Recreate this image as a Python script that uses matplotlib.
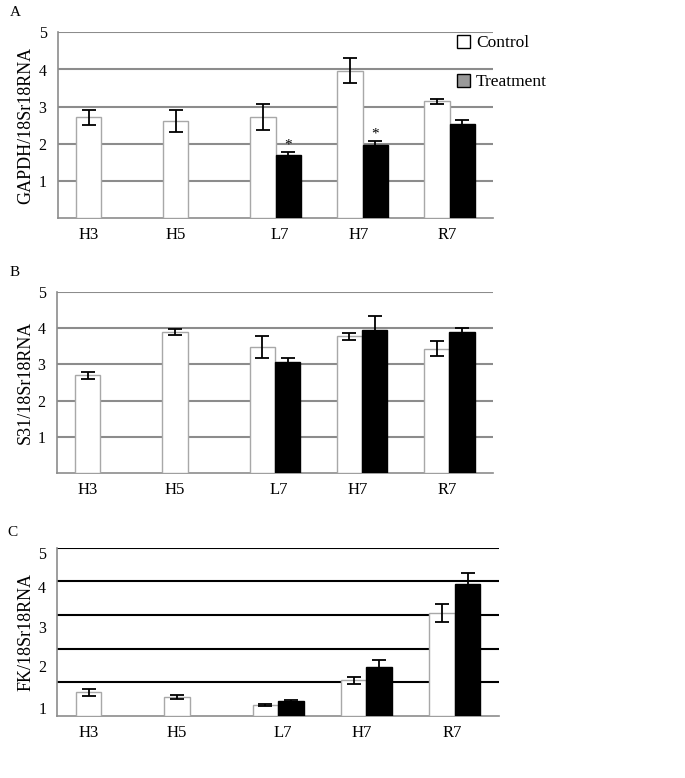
import numpy as np
import matplotlib
matplotlib.use("Agg")
import matplotlib.pyplot as plt
from matplotlib.patches import Patch

plt.rcParams['font.family'] = ['Liberation Serif', 'DejaVu Serif']

# Dati
categories = ["H3", "H5", "L7", "H7", "R7"]
xtick_pos = [-0.145, 0.855, 2.05, 2.95, 3.97]

gapdh_ctrl = [2.72, 2.61, 2.72, 3.97, 3.15]
gapdh_ctrl_err = [0.2, 0.3, 0.34, 0.34, 0.07]
gapdh_trt = [np.nan, np.nan, 1.69, 1.98, 2.53]
gapdh_trt_err = [np.nan, np.nan, 0.1, 0.1, 0.1]

s31_ctrl = [2.70, 3.89, 3.47, 3.77, 3.43]
s31_ctrl_err = [0.09, 0.08, 0.3, 0.1, 0.2]
s31_trt = [np.nan, np.nan, 3.07, 3.94, 3.90]
s31_trt_err = [np.nan, np.nan, 0.11, 0.39, 0.11]

fk_ctrl = [0.70, 0.56, 0.32, 1.05, 3.05]
fk_ctrl_err = [0.1, 0.07, 0.04, 0.1, 0.26]
fk_trt = [np.nan, np.nan, 0.44, 1.46, 3.91]
fk_trt_err = [np.nan, np.nan, 0.03, 0.2, 0.33]

# etichette asse y del pannello C (spostate rispetto alla griglia)
fk_ylabel_pos = [0.23, 1.48, 2.65, 3.84, 4.84]
fk_ylabel_txt = ["1", "2", "3", "4", "5"]

W = 685
H = 778
fig = plt.figure(figsize=(W / 100, H / 100), dpi=100)

def px_axes(x0, y0, x1, y1):
    return fig.add_axes([x0 / W, 1 - y1 / H, (x1 - x0) / W, (y1 - y0) / H])

def draw_panel(ax, ctrl, ctrl_err, trt, trt_err, ylabel, grid_color):
    x = np.arange(len(categories))
    bw = 0.29
    ax.bar(x - bw / 2, ctrl, bw, color="white", edgecolor="#a8a8a8", linewidth=1.0, zorder=3)
    ax.errorbar(x - bw / 2, ctrl, yerr=ctrl_err, fmt="none", ecolor="black",
                elinewidth=1.3, capsize=5, capthick=1.3, zorder=4)
    ax.errorbar(x + bw / 2, trt, yerr=trt_err, fmt="none", ecolor="black",
                elinewidth=1.3, capsize=5, capthick=1.3, zorder=2)
    ax.bar(x + bw / 2, trt, bw, color="black", edgecolor="black", linewidth=1.0, zorder=3)
    ax.set_xlim(-0.5, 4.5)
    ax.set_ylim(0, 5)
    for v in [1, 2, 3, 4, 5]:
        ax.axhline(v, color=grid_color, linewidth=1.5, zorder=1)
    ax.set_xticks(xtick_pos)
    ax.set_xticklabels(categories, fontsize=12)
    ax.tick_params(axis="both", length=0)
    ax.tick_params(axis="x", pad=6.5)
    ax.tick_params(axis="y", pad=8)
    for s in ["top", "right"]:
        ax.spines[s].set_visible(False)
    for s in ["left", "bottom"]:
        ax.spines[s].set_color("#8c8c8c")
        ax.spines[s].set_linewidth(1.2)
    ax.set_ylabel(ylabel, fontsize=13, labelpad=3)
    return x, bw

# Pannello A
axA = px_axes(57.7, 32.3, 493.3, 218.3)
x, bw = draw_panel(axA, gapdh_ctrl, gapdh_ctrl_err, gapdh_trt, gapdh_trt_err,
                   "GAPDH/18Sr18RNA", "#8c8c8c")
axA.set_yticks([1, 2, 3, 4, 5])
axA.set_yticklabels(["1", "2", "3", "4", "5"], fontsize=11.5)
for i in [2, 3]:
    axA.annotate("*", xy=(x[i] + bw / 2, gapdh_trt[i] + gapdh_trt_err[i]),
                 xytext=(0, 0), textcoords="offset points",
                 ha="center", va="bottom", fontsize=11)

# Pannello B
axB = px_axes(56.7, 291.7, 493.0, 473.3)
draw_panel(axB, s31_ctrl, s31_ctrl_err, s31_trt, s31_trt_err,
           "S31/18Sr18RNA", "#8c8c8c")
axB.set_yticks([1, 2, 3, 4, 5])
axB.set_yticklabels(["1", "2", "3", "4", "5"], fontsize=11.5)

# Pannello C
axC = px_axes(57.3, 547.7, 499.0, 715.7)
draw_panel(axC, fk_ctrl, fk_ctrl_err, fk_trt, fk_trt_err,
           "FK/18Sr18RNA", "black")
axC.set_yticks([])
axC.set_yticks(fk_ylabel_pos, fk_ylabel_txt, minor=True)
axC.tick_params(axis="y", which="minor", length=0, labelsize=11.5, pad=8)

# Lettere dei pannelli
fig.text(10 / W, 1 - 12 / H, "A", fontsize=11, va="center", ha="left")
fig.text(10 / W, 1 - 272 / H, "B", fontsize=11, va="center", ha="left")
fig.text(7 / W, 1 - 533 / H, "C", fontsize=11, va="center", ha="left")

# Legenda
handles = [Patch(facecolor="white", edgecolor="black", linewidth=1.0),
           Patch(facecolor="#999999", edgecolor="black", linewidth=1.0)]
fig.legend(handles, ["Control", "Treatment"], loc="upper left",
           bbox_to_anchor=(457 / W, 1 - 35 / H), frameon=False, fontsize=12.5,
           handlelength=0.75, handleheight=0.75, handletextpad=0.35,
           labelspacing=1.3, borderpad=0, borderaxespad=0)

fig.savefig("out.png", dpi=100)
